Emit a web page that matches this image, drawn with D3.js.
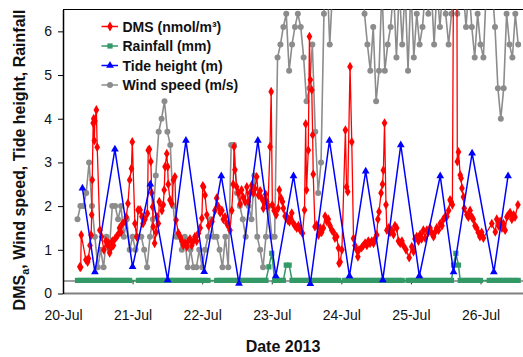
<!DOCTYPE html>
<html>
<head>
<meta charset="utf-8">
<script src="https://cdn.jsdelivr.net/npm/d3@7/dist/d3.min.js"></script>
<style>
  html, body { margin: 0; padding: 0; background: #fff; }
  svg text { font-family: Arial, "Liberation Sans", sans-serif; }
</style>
</head>
<body>
<figure id="chart" style="margin:0"></figure>
<script>
// all times are hours after 20-Jul-2013 00:00
const dateTicks = ["2013-07-20", "2013-07-21", "2013-07-22", "2013-07-23", "2013-07-24", "2013-07-25", "2013-07-26"];
const yTicks = [0, 1, 2, 3, 4, 5, 6];
const seriesNames = ["DMS (nmol/m\u00b3)", "Rainfall (mm)", "Tide height (m)", "Wind speed (m/s)"];

const dmsHour = [5.8,6.1,6.3,7.9,8.5,8.8,9.3,9.7,9.9,10.1,10.4,10.6,10.8,11.0,11.5,11.8,12.7,13.3,14.1,14.8,
  15.4,15.7,16.1,16.6,17.0,17.4,17.9,18.5,19.0,19.5,20.0,20.5,21.3,21.8,22.4,23.0,23.6,23.9,24.8,25.4,
  25.9,26.6,27.2,27.6,28.3,29.1,29.4,29.8,30.3,30.6,30.9,31.1,31.6,32.1,32.4,32.9,33.2,34.1,34.6,34.9,
  35.2,35.8,36.1,36.3,36.9,37.5,38.1,38.6,39.0,39.8,40.4,41.0,41.5,42.1,42.7,43.2,43.8,44.4,45.0,45.5,
  46.1,46.7,47.3,47.9,48.2,48.5,49.0,49.6,50.2,51.4,52.4,53.0,53.6,54.2,54.8,55.3,55.9,56.5,57.0,57.6,
  58.2,58.7,59.0,59.3,59.9,60.5,61.1,61.6,62.2,62.8,63.4,63.9,64.5,65.1,65.7,66.2,66.8,67.4,68.0,68.5,
  69.1,69.5,69.9,70.3,70.7,71.4,71.8,72.2,72.8,73.5,74.2,74.6,75.2,75.7,76.0,76.6,77.2,77.5,78.1,78.5,
  78.9,79.5,80.0,80.6,81.2,81.8,82.6,83.3,83.7,84.0,84.6,85.0,85.3,85.8,86.1,86.3,86.9,87.5,88.1,88.7,
  89.2,89.8,90.4,91.0,91.5,92.1,92.7,93.3,93.8,94.4,95.0,95.2,95.6,96.2,97.4,97.8,98.2,99.0,99.6,100.2,
  100.7,101.3,101.7,102.1,103.0,103.6,104.2,104.8,105.3,105.9,106.5,107.1,107.6,108.2,108.6,109.0,109.7,110.2,110.5,110.9,
  111.4,111.7,112.3,112.8,113.4,114.0,114.5,115.1,115.7,116.3,116.9,117.4,118.3,119.4,120.3,120.9,121.4,122.0,122.6,123.2,
  123.7,124.3,124.9,125.5,126.0,126.6,127.2,127.8,128.3,128.9,129.5,130.1,130.7,131.2,131.8,132.4,133.0,133.5,133.9,134.3,
  134.8,135.8,136.0,136.4,137.0,137.3,137.6,138.1,138.4,139.3,139.8,140.4,141.0,141.5,142.1,142.7,143.2,143.8,144.4,145.0,
  147.9,149.1,149.6,150.2,150.8,151.4,151.9,152.5,153.1,153.6,154.2,154.8,155.4,155.9,156.9];
const dmsConc = [0.61,0.6,1.34,0.77,0.72,0.8,1.1,1.34,1.8,2.6,3.9,4.0,3.5,3.95,4.2,3.35,1.45,1.3,1.0,1.2,
  1.1,1.15,0.93,1.05,1.2,1.1,1.25,1.3,1.35,1.5,1.4,1.6,1.65,1.75,2.06,2.6,2.86,3.47,1.6,1.3,
  1.91,1.91,1.76,1.6,1.7,1.83,3.28,3.3,3.02,2.3,1.98,1.53,1.15,1.4,1.76,1.6,2.1,1.9,2.03,2.37,
  2.9,3.2,2.9,2.5,2.14,2.06,2.6,2.67,1.68,1.38,1.3,1.2,1.1,1.15,1.07,1.2,1.25,1.1,1.2,1.3,
  1.2,1.38,1.5,1.72,2.46,2.44,2.25,1.8,1.55,1.65,1.9,2.18,1.99,1.85,1.9,1.7,1.75,1.6,1.55,1.45,
  1.9,2.5,3.36,2.83,2.44,2.3,2.05,2.37,2.2,2.1,2.44,2.1,2.3,2.48,2.3,2.4,2.67,2.25,2.35,2.18,
  1.95,2.1,2.27,2.1,2.0,3.36,4.62,2.03,1.9,1.8,1.95,2.37,2.18,2.1,1.95,1.77,1.76,1.68,1.64,1.72,
  1.84,1.6,1.55,1.5,1.55,1.45,1.38,1.91,3.88,2.37,3.28,5.88,4.89,4.66,3.63,2.73,1.53,1.57,1.34,1.5,
  1.4,1.5,1.77,1.65,1.7,1.55,1.45,1.4,1.27,1.3,1.04,0.69,0.72,1.0,3.74,2.44,2.33,5.19,3.47,1.26,
  1.1,1.0,0.84,1.0,1.05,1.1,1.15,1.1,1.2,1.15,1.2,1.15,1.25,1.34,1.7,1.87,2.3,2.5,2.82,3.9,
  2.03,1.45,1.5,1.4,1.45,1.35,1.55,1.5,1.2,1.15,1.2,1.1,1.0,0.82,1.07,0.96,1.25,1.3,1.2,1.35,
  1.25,1.45,1.27,1.45,1.4,1.5,1.38,1.3,1.4,1.5,1.45,1.6,1.55,1.7,1.75,1.76,1.9,2.14,2.1,2.03,
  9.0,9.0,3.02,3.24,2.71,2.64,2.41,2.21,1.95,1.8,1.75,1.9,1.75,1.7,1.55,1.5,1.4,1.3,1.4,1.27,
  1.6,1.41,1.7,1.55,1.65,1.5,1.6,1.45,1.75,1.8,1.85,1.7,1.8,1.75,2.03];

const rainHour = [5,6,7,8,9,10,11,12,13,14,15,16,17,18,19,20,21,22,23,
  26,27,28,29,30,31,32,33,34,35,36,37,38,39,40,41,42,43,44,45,46,47,48,49,50,
  53,54,55,56,57,58,59,60,61,62,63,64,65,66,67,68,69,70,71,72,73,74,75,76,77,78,79,80,81,82,
  83,84,85,86,87,88,89,90,91,92,93,94,95,
  97,98,99,100,101,102,103,104,105,106,107,108,109,110,111,112,113,114,115,116,117,
  119,120,121,122,123,124,125,126,127,128,129,130,131,132,133,134,134.7,135.5,136.4,
  137,138,139,140,141,142,143,144,
  147,148,149,150,151,152,153,154,155,156,157];
const rainMm = [0.3,0.3,0.3,0.3,0.3,0.3,0.3,0.3,0.3,0.3,0.3,0.3,0.3,0.3,0.3,0.3,0.3,0.3,0.3,
  0.3,0.3,0.3,0.3,0.3,0.3,0.3,0.3,0.3,0.3,0.3,0.3,0.3,0.3,0.3,0.3,0.3,0.3,0.3,0.3,0.3,0.3,0.3,0.3,0.3,
  0.3,0.3,0.3,0.3,0.3,0.3,0.3,0.3,0.3,0.3,0.3,0.3,0.3,0.3,0.3,0.3,0.3,0.3,0.61,0.92,0.3,0.3,0.3,0.3,0.65,0.65,0.3,0.3,0.3,0.3,
  0.3,0.3,0.3,0.3,0.3,0.3,0.3,0.3,0.3,0.3,0.3,0.3,0.3,
  0.3,0.3,0.3,0.3,0.3,0.3,0.3,0.3,0.3,0.3,0.3,0.3,0.3,0.3,0.3,0.3,0.3,0.3,0.3,0.3,0.3,
  0.3,0.3,0.3,0.3,0.3,0.3,0.3,0.3,0.3,0.3,0.3,0.3,0.3,0.3,0.3,0.3,0.65,0.92,0.65,
  0.3,0.3,0.3,0.3,0.3,0.3,0.3,0.3,
  0.3,0.3,0.3,0.3,0.3,0.3,0.3,0.3,0.3,0.3,0.3];

const tideHour = [6.7,11.0,17.9,24.0,30.1,36.1,42.4,48.7,54.6,60.7,67.2,73.4,79.5,85.3,91.9,98.8,104.4,110.3,116.5,122.9,130.1,134.7,141.1,148.6,153.5];
const tideHeight = [2.41,0.49,3.30,0.61,2.50,0.31,3.50,0.50,2.69,0.23,3.50,0.40,2.69,0.22,3.50,0.40,2.80,0.31,3.40,0.40,2.69,0.49,3.21,0.49,2.69];

const windHour = [5,6,7,8,9,10,11,12,13,14,15,16,17,18,19,20,21,22,23,24,25,26,27,28,29,30,31,32,33,34,35,36,37,38,39,40,
  41,42,43,44,45,46,47,48,49,50,51,52,53,54,55,56,57,58,59,60,61,62,63,64,65,66,67,68,69,70,71,72,73,74,75,76,77,78,79,80,
  81,82,83,84,85,86,87,88,89,90,91,92,93,94,95,96,97,98,99,100,101,102,103,104,105,106,107,108,109,110,111,112,113,114,115,116,117,118,119,120,
  121,122,123,124,125,126,127,128,129,130,131,132,133,134,135,136,137,138,139,140,141,142,143,144,145,146,147,148,149,150,151,152,153,154,155,156,157];
const windSpeed = [1.7,2.0,2.0,2.3,3.0,2.0,1.3,0.6,1.0,0.6,1.3,1.0,2.0,2.0,1.7,2.0,1.3,1.7,1.0,1.3,1.0,1.3,1.3,1.0,0.6,1.3,1.7,2.7,3.7,4.0,4.4,3.7,3.4,2.0,1.3,1.3,
  1.0,1.3,0.6,1.0,0.6,0.6,1.0,0.6,1.0,1.3,1.7,1.3,1.3,1.0,0.6,1.3,0.6,3.4,3.4,2.3,2.0,1.7,1.3,2.0,1.7,2.7,1.3,1.0,0.6,1.3,2.0,1.3,1.3,5.4,5.7,6.1,6.4,5.1,5.7,6.1,
  6.4,6.1,5.4,4.4,4.7,5.7,3.7,2.3,3.0,6.4,7.4,5.7,7.0,7.8,7.2,8.0,7.5,7.0,7.9,7.3,7.6,7.0,7.4,6.4,5.7,5.1,6.1,4.4,5.1,7.0,5.1,5.7,6.1,7.0,5.4,7.0,5.7,7.0,5.1,7.0,
  5.4,6.4,5.7,6.1,7.0,6.4,7.0,5.7,7.0,6.1,7.0,6.4,5.7,6.4,7.0,6.4,7.5,7.0,6.1,7.0,6.1,5.4,6.4,5.7,5.4,7.0,7.5,7.0,6.1,4.7,4.0,4.7,6.4,5.7,5.4,6.4,5.7];

const width = 523, height = 357;
const plotLeft = 63, plotRight = 524, plotTop = 9.5, plotBottom = 293.5;

const start = d3.timeParse("%Y-%m-%d")(dateTicks[0]);
const at = h => d3.timeMinute.offset(start, Math.round(h * 60));
const pairs = (hs, vs) => hs.map((h, i) => ({t: at(h), v: vs[i]}));

const dms = pairs(dmsHour, dmsConc);
const rain = pairs(rainHour, rainMm);
const tide = pairs(tideHour, tideHeight);
const wind = pairs(windHour, windSpeed);

const x = d3.scaleTime().domain([start, at(159)]).range([plotLeft, plotRight]);
const y = d3.scaleLinear().domain([0, 6.5]).range([plotBottom, plotTop]);

const svg = d3.select("#chart").append("svg")
  .attr("width", width)
  .attr("height", height);

svg.append("defs").append("clipPath").attr("id", "plot")
  .append("rect")
  .attr("x", plotLeft).attr("y", plotTop)
  .attr("width", plotRight - plotLeft).attr("height", plotBottom - plotTop);

// frame
svg.append("line")
  .attr("x1", plotLeft).attr("x2", plotRight).attr("y1", plotTop).attr("y2", plotTop)
  .attr("stroke", "#000").attr("stroke-width", 1.2);
svg.append("line")
  .attr("x1", plotLeft).attr("x2", plotRight).attr("y1", plotBottom).attr("y2", plotBottom)
  .attr("stroke", "#808080").attr("stroke-width", 2);

// x axis line sits at 0.3 with ticks hanging down
const tickDates = dateTicks.map(d3.timeParse("%Y-%m-%d"));
const xLine = svg.append("g")
  .attr("transform", "translate(0," + y(0.3) + ")")
  .call(d3.axisBottom(x).tickValues(tickDates).tickSize(4).tickSizeOuter(0).tickFormat(""));
xLine.select(".domain").attr("stroke", "#808080").attr("stroke-width", 1.5);
xLine.selectAll(".tick line").attr("stroke", "#333");

const xLab = svg.append("g")
  .attr("transform", "translate(0," + plotBottom + ")")
  .call(d3.axisBottom(x).tickValues(tickDates).tickSize(0).tickPadding(17).tickFormat(d3.timeFormat("%-d-%b")));
xLab.select(".domain").remove();
xLab.selectAll("text").style("font-size", "14px").attr("fill", "#111");

const yAxis = svg.append("g")
  .attr("transform", "translate(" + plotLeft + ",0)")
  .call(d3.axisLeft(y).tickValues(yTicks).tickFormat(d3.format("d")).tickSize(5).tickSizeOuter(0).tickPadding(6));
yAxis.select(".domain").attr("stroke", "#000").attr("stroke-width", 1.5);
yAxis.selectAll("text").style("font-size", "14px").attr("fill", "#111");

const plot = svg.append("g").attr("clip-path", "url(#plot)");
const line = d3.line().x(d => x(d.t)).y(d => y(d.v));

// wind speed
plot.append("path").datum(wind)
  .attr("d", line).attr("fill", "none").attr("stroke", "#8c8c8c").attr("stroke-width", 1.6);
plot.selectAll(".wind").data(wind).enter().append("circle")
  .attr("cx", d => x(d.t)).attr("cy", d => y(d.v)).attr("r", 3)
  .attr("fill", "#8c8c8c");

// rainfall
plot.append("path").datum(rain)
  .attr("d", line).attr("fill", "none").attr("stroke", "#339966").attr("stroke-width", 1.5);
plot.selectAll(".rain").data(rain).enter().append("rect")
  .attr("x", d => x(d.t) - 2.6).attr("y", d => y(d.v) - 2.6)
  .attr("width", 5.2).attr("height", 5.2)
  .attr("fill", "#339966");

// DMS
const diamond = d3.symbol().type(d3.symbolDiamond).size(28);
plot.append("path").datum(dms)
  .attr("d", line).attr("fill", "none").attr("stroke", "#ff0000").attr("stroke-width", 1.3);
plot.selectAll(".dms").data(dms).enter().append("path")
  .attr("d", diamond)
  .attr("transform", d => "translate(" + x(d.t) + "," + y(d.v) + ")")
  .attr("fill", "#ff0000");

// tide height
const tri = d3.symbol().type(d3.symbolTriangle).size(26);
plot.append("path").datum(tide)
  .attr("d", line).attr("fill", "none").attr("stroke", "#0000ff").attr("stroke-width", 1.5);
plot.selectAll(".tide").data(tide).enter().append("path")
  .attr("d", tri)
  .attr("transform", d => "translate(" + x(d.t) + "," + y(d.v) + ")")
  .attr("fill", "#0000ff");

// legend
const legColors = ["#ff0000", "#339966", "#0000ff", "#8c8c8c"];
const legend = svg.append("g");
seriesNames.forEach((name, i) => {
  const ly = 26.5 + i * 19.5;
  const g = legend.append("g").attr("transform", "translate(0," + ly + ")");
  g.append("line").attr("x1", 101.5).attr("x2", 118).attr("y1", 0).attr("y2", 0)
    .attr("stroke", legColors[i]).attr("stroke-width", 1.5);
  if (i === 0) g.append("path").attr("d", diamond).attr("transform", "translate(110,0)").attr("fill", legColors[i]);
  if (i === 1) g.append("rect").attr("x", 107.4).attr("y", -2.6).attr("width", 5.2).attr("height", 5.2).attr("fill", legColors[i]);
  if (i === 2) g.append("path").attr("d", tri).attr("transform", "translate(110,0)").attr("fill", legColors[i]);
  if (i === 3) g.append("circle").attr("cx", 110).attr("cy", 0).attr("r", 3).attr("fill", legColors[i]);
  g.append("text").attr("x", 122.5).attr("y", 5)
    .style("font-size", "14px").style("font-weight", "bold").attr("fill", "#111")
    .text(name);
});

// axis titles
svg.append("text")
  .attr("x", 283).attr("y", 351.5)
  .attr("text-anchor", "middle")
  .style("font-size", "16px").style("font-weight", "bold").attr("fill", "#111")
  .text("Date 2013");

const yTitle = svg.append("text")
  .attr("transform", "translate(25,160) rotate(-90)")
  .attr("text-anchor", "middle")
  .style("font-size", "16px").style("font-weight", "bold").attr("fill", "#111");
yTitle.append("tspan").text("DMS");
yTitle.append("tspan").attr("dy", 4).style("font-size", "11px").text("a");
yTitle.append("tspan").attr("dy", -4).text(", Wind speed, Tide height, Rainfall");
</script>
</body>
</html>
